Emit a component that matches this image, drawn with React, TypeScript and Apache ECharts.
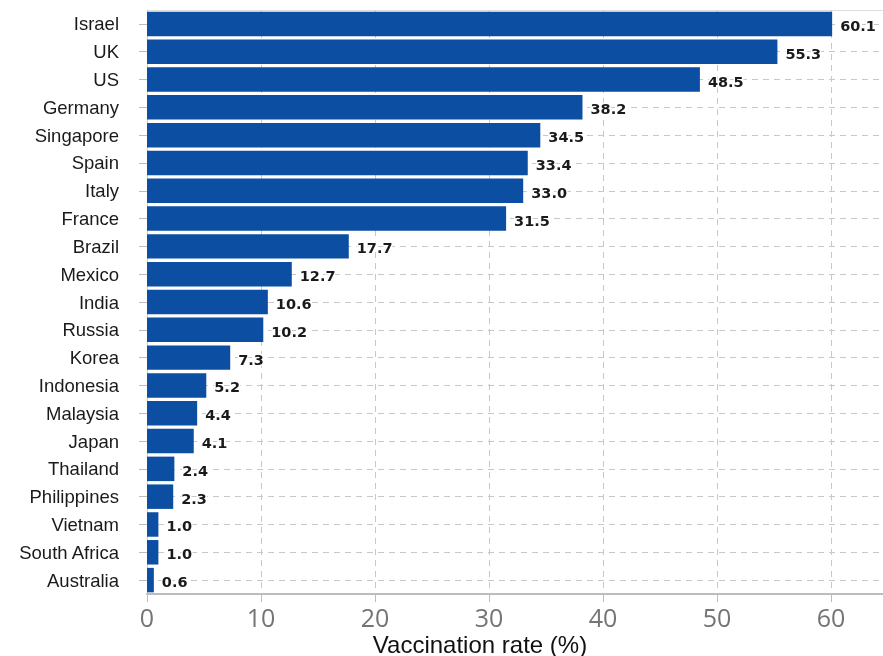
import React, { useEffect, useRef } from "react";
import * as echarts from "echarts";

const countries = [
  "Israel", "UK", "US", "Germany", "Singapore", "Spain", "Italy", "France",
  "Brazil", "Mexico", "India", "Russia", "Korea", "Indonesia", "Malaysia",
  "Japan", "Thailand", "Philippines", "Vietnam", "South Africa", "Australia",
];
const vaccinationRate = [
  60.1, 55.3, 48.5, 38.2, 34.5, 33.4, 33.0, 31.5, 17.7, 12.7, 10.6, 10.2,
  7.3, 5.2, 4.4, 4.1, 2.4, 2.3, 1.0, 1.0, 0.6,
];
const xTicks = [0, 10, 20, 30, 40, 50, 60];
const axisTitle = "Vaccination rate (%)";

export default function App() {
  const ref = useRef<HTMLDivElement>(null);

  useEffect(() => {
    if (!ref.current) return;
    const chart = echarts.init(ref.current, null, { renderer: "svg" });
    // The value axis runs to 70; the chart is wider than the visible frame,
    // so the stretch beyond ~64 is cut off by the wrapper.
    chart.setOption({
      animation: false,
      grid: { left: 147, right: 0, top: 10, bottom: 62 },
      xAxis: [
        {
          type: "value",
          min: 0,
          max: 70,
          interval: 10,
          axisLine: { show: true, lineStyle: { color: "#bdbdbd", width: 2 } },
          axisTick: { show: true, length: 8, lineStyle: { color: "#bdbdbd" } },
          axisLabel: {
            color: "#747474",
            fontFamily: "Open Sans",
            fontSize: 25,
            margin: 10,
            formatter: (v: number) => (xTicks.includes(v) ? String(v) : ""),
          },
          splitLine: {
            show: true,
            lineStyle: { color: "#c8c8c8", type: [6, 5], width: 1 },
          },
        },
        {
          type: "value",
          position: "top",
          min: 0,
          max: 70,
          axisLine: { show: true, lineStyle: { color: "#dddddd", width: 1 } },
          axisTick: { show: false },
          axisLabel: { show: false },
          splitLine: { show: false },
        },
      ],
      yAxis: {
        type: "category",
        inverse: true,
        data: countries,
        axisLine: { show: true, lineStyle: { color: "#d0d0d0", width: 1 } },
        axisTick: {
          show: true,
          alignWithLabel: true,
          length: 8,
          lineStyle: { color: "#bdbdbd" },
        },
        axisLabel: {
          color: "#1a1a1a",
          fontFamily: "Liberation Sans",
          fontSize: 18.5,
          margin: 28,
          offset: [0, -2],
        },
        splitLine: {
          show: true,
          alignWithLabel: true,
          lineStyle: { color: "#c8c8c8", type: [6, 5], width: 1 },
        },
      },
      series: [
        {
          type: "bar",
          xAxisIndex: 0,
          data: vaccinationRate,
          barCategoryGap: "12%",
          itemStyle: { color: "#0B4EA2" },
          label: {
            show: true,
            position: "right",
            distance: 8,
            formatter: (p: any) => Number(p.value).toFixed(1),
            fontFamily: "DejaVu Sans",
            fontWeight: "bold",
            fontSize: 14.5,
            color: "#1a1a1a",
            textBorderColor: "#ffffff",
            textBorderWidth: 3,
            offset: [0, 2],
          },
        },
      ],
      graphic: [
        {
          type: "text",
          x: 480,
          y: 632,
          style: {
            text: axisTitle,
            fontFamily: "Liberation Sans",
            fontSize: 24,
            fill: "#111111",
            align: "center",
            verticalAlign: "top",
          },
        },
      ],
    });
    return () => chart.dispose();
  }, []);

  return (
    <div
      style={{
        position: "fixed",
        left: 0,
        top: 0,
        width: 883,
        height: 656,
        overflow: "hidden",
      }}
    >
      <div ref={ref} style={{ width: 948, height: 656 }} />
    </div>
  );
}
